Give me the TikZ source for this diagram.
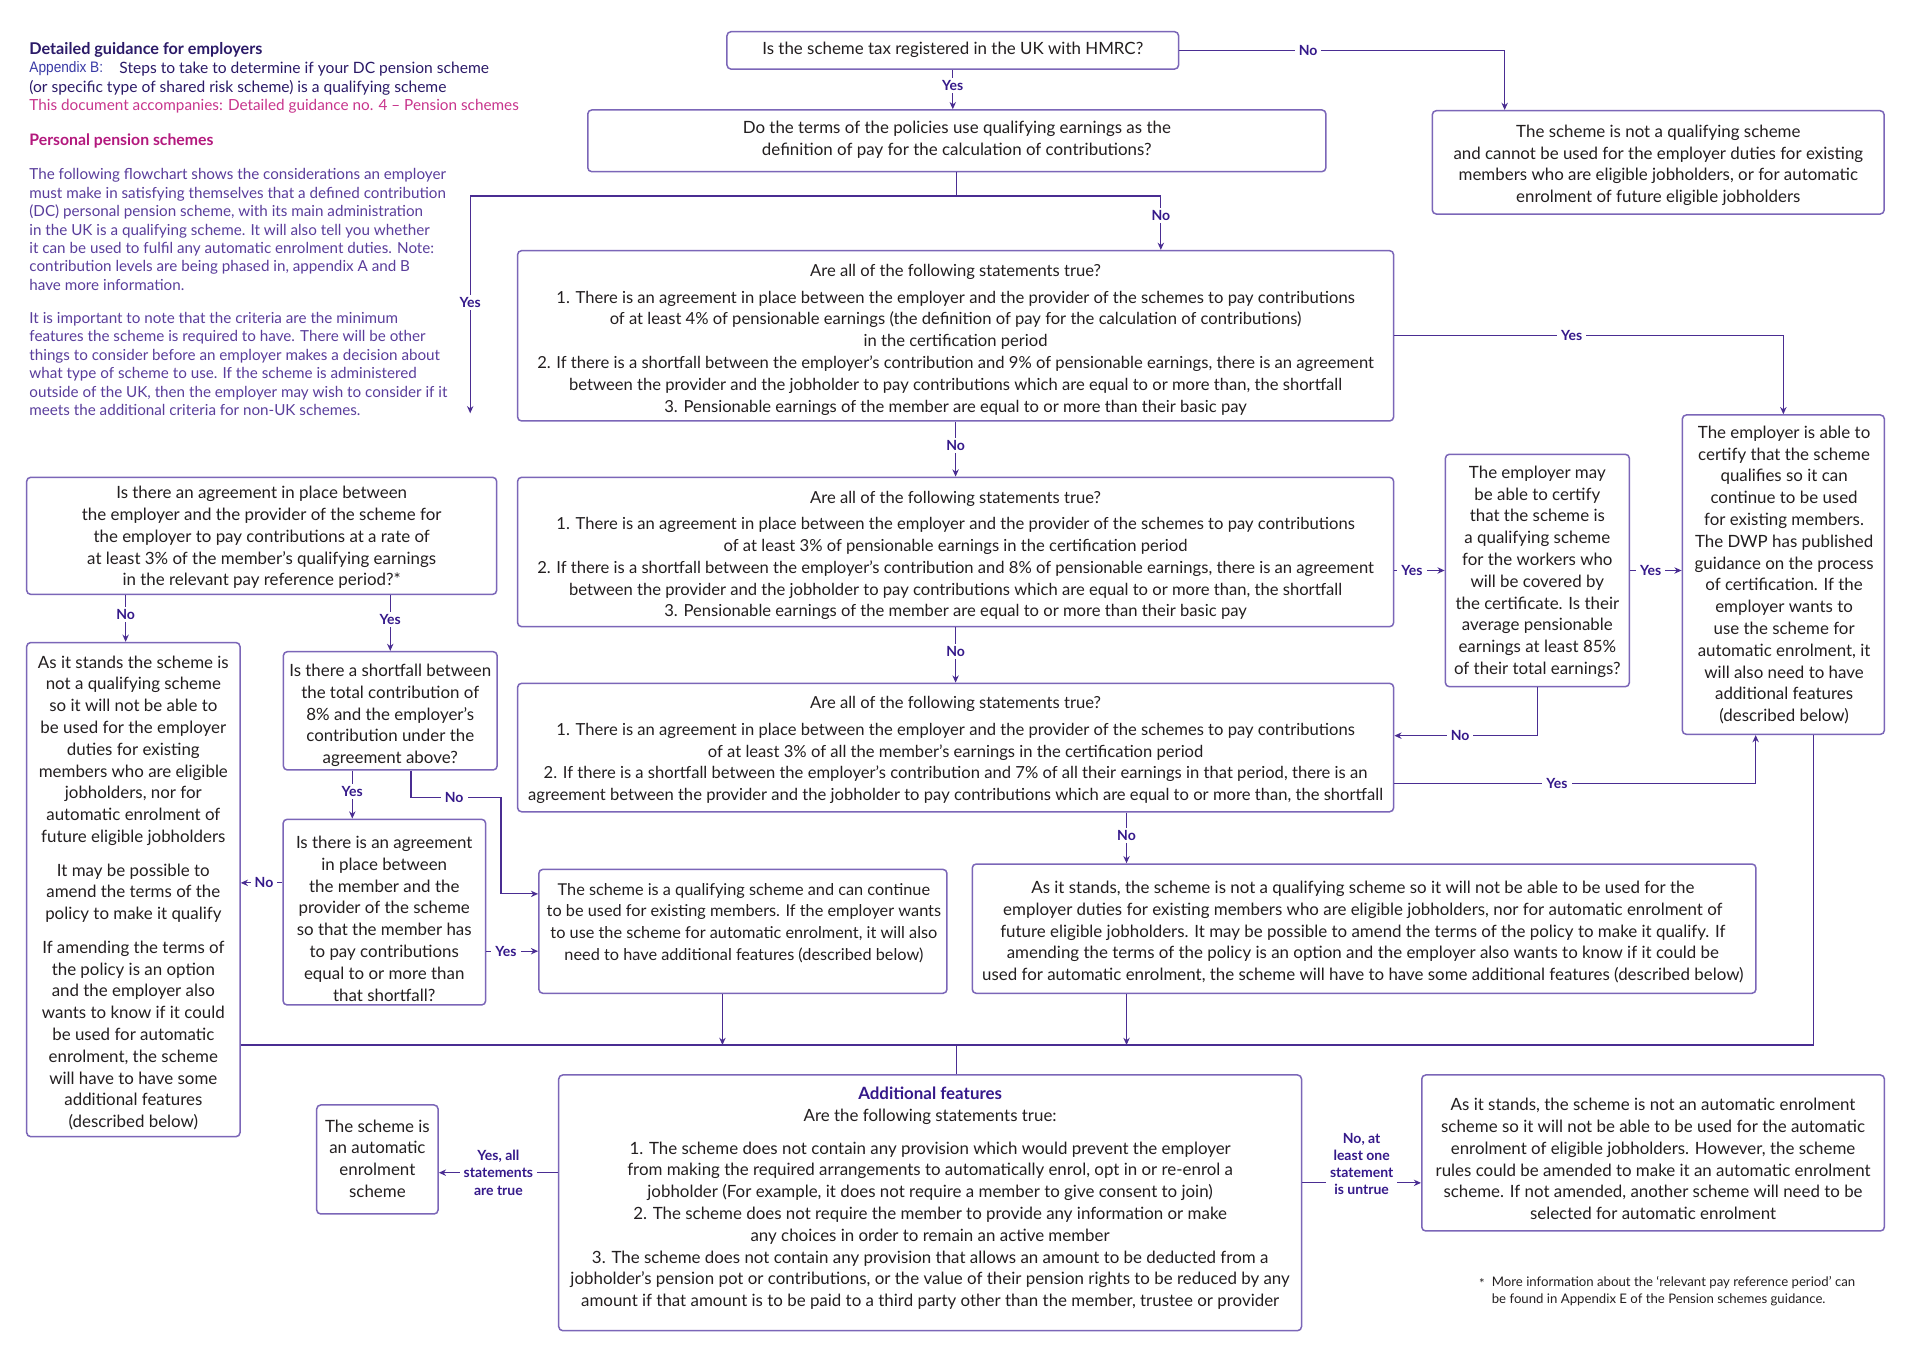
\documentclass[tikz,border=0pt]{standalone}
\usepackage{fontspec}
\setmainfont{Lato}
\newfontfamily\narrowfont[FakeStretch=0.9]{Liberation Sans}
\usetikzlibrary{arrows.meta}
\definecolor{boxline}{HTML}{7B66B8}
\definecolor{conn}{HTML}{4A2D92}
\definecolor{lblc}{HTML}{35198A}
\definecolor{txt}{HTML}{231F20}
\definecolor{navy}{HTML}{2B1A68}
\definecolor{apblue}{HTML}{3A3AA6}
\definecolor{mag}{HTML}{C8358D}
\definecolor{magb}{HTML}{B3187D}
\definecolor{para}{HTML}{5A3E9C}
\newcommand\unitpx{0.61224pt}
\newcommand\boxfont{\fontsize{8.45}{10.9}\selectfont}
\newcommand\widefont{\fontsize{8.3}{10.9}\selectfont}
\tikzset{
 frame/.style 2 args={draw=boxline, line width=0.75pt, rounded corners=2pt, minimum width=#1*\unitpx, minimum height=#2*\unitpx, inner sep=0pt},
 btxt/.style={align=center, font=\boxfont, text=txt, inner sep=0pt},
 wtxt/.style={btxt, font=\widefont},
 ln/.style={draw=conn, line width=0.6pt},
 arr/.style={ln, -{Stealth[length=3.6pt,width=3.2pt]}},
 lbl/.style={font=\bfseries\fontsize{7}{8.6}\selectfont, text=lblc, fill=white, inner xsep=2pt, inner ysep=1.2pt, align=center},
 hdr/.style={anchor=west, inner sep=0pt},
}
\begin{document}
\begin{tikzpicture}[x=\unitpx, y=-\unitpx]
\useasboundingbox[fill=white] (0,0) rectangle (1568,1109);

% ---------- header ----------
\node[hdr, font=\bfseries\fontsize{8.1}{9}\selectfont, text=navy] (t1) at (23.7,40.8) {Detailed guidance for employers};
\node[hdr, font=\narrowfont\fontsize{7.6}{9}\selectfont, text=apblue] (t2) at (23.7,56.4) {Appendix B:};
\node[hdr, font=\fontsize{7.8}{9}\selectfont, text=navy] (t2b) at (97.2,56.4) {Steps to take to determine if your DC pension scheme};
\node[hdr, font=\fontsize{7.8}{9}\selectfont, text=navy] (t3) at (23.7,71.9) {(or specific type of shared risk scheme) is a qualifying scheme};
\node[hdr, font=\fontsize{7.65}{9}\selectfont, text=mag] (t4) at (23.7,86.6) {This document accompanies: Detailed guidance no. 4 – Pension schemes};
\node[hdr, font=\bfseries\fontsize{7.9}{9}\selectfont, text=magb] (t5) at (23.7,115.1) {Personal pension schemes};
\node[hdr, align=left, font=\fontsize{7.6}{9.23}\selectfont, text=para] (p1) at (23.7,187.4) {The following flowchart shows the considerations an employer\\must make in satisfying themselves that a defined contribution\\(DC) personal pension scheme, with its main administration\\in the UK is a qualifying scheme. It will also tell you whether\\it can be used to fulfil any automatic enrolment duties. Note:\\contribution levels are being phased in, appendix A and B\\have more information.};
\node[hdr, align=left, font=\fontsize{7.6}{9.23}\selectfont, text=para] (p2) at (23.7,297.1) {It is important to note that the criteria are the minimum\\features the scheme is required to have. There will be other\\things to consider before an employer makes a decision about\\what type of scheme to use. If the scheme is administered\\outside of the UK, then the employer may wish to consider if it\\meets the additional criteria for non-UK schemes.};

% ---------- frames ----------
\node[frame={368.8}{30.5}] (A) at (778.1,41.15) {};
\node[frame={602.8}{50.4}] (B) at (781.4,115) {};
\node[frame={369}{84.4}] (D) at (1354.2,132.6) {};
\node[frame={715.4}{139.1}] (C) at (780.4,274.25) {};
\node[frame={715.4}{122}] (C2) at (780.4,450.8) {};
\node[frame={715.4}{104.9}] (C3) at (780.4,610.5) {};
\node[frame={165}{260.8}] (E) at (1456.4,469.3) {};
\node[frame={150.2}{189.8}] (F) at (1255.5,465.9) {};
\node[frame={640}{105.6}] (G) at (1114,758.4) {};
\node[frame={383.8}{95.6}] (H) at (213.7,437.6) {};
\node[frame={174.2}{403.5}] (I) at (108.9,726.5) {};
\node[frame={174.6}{96.6}] (J) at (318.7,580.5) {};
\node[frame={165.4}{151.6}] (K) at (313.9,744.9) {};
\node[frame={333.3}{101.2}] (L) at (606.7,760.6) {};
\node[frame={606.6}{208.8}] (M) at (759.6,982.3) {};
\node[frame={99.1}{89}] (N) at (308.2,946.9) {};
\node[frame={377.8}{127.4}] (O) at (1350,941.6) {};

% ---------- texts ----------
\node[btxt] (At) at (778.1,40.8) {Is the scheme tax registered in the UK with HMRC?};
\node[btxt] (Bt) at (781.4,114.3) {Do the terms of the policies use qualifying earnings as the\\definition of pay for the calculation of contributions?};
\node[btxt] (Dt) at (1354.3,135) {The scheme is not a qualifying scheme\\and cannot be used for the employer duties for existing\\members who are eligible jobholders, or for automatic\\enrolment of future eligible jobholders};
\node[wtxt] (Ct) at (780.4,277.5) {Are all of the following statements true?\\[2.4pt]1. There is an agreement in place between the employer and the provider of the schemes to pay contributions\\of at least 4\% of pensionable earnings (the definition of pay for the calculation of contributions)\\in the certification period\\2. If there is a shortfall between the employer’s contribution and 9\% of pensionable earnings, there is an agreement\\between the provider and the jobholder to pay contributions which are equal to or more than, the shortfall\\3. Pensionable earnings of the member are equal to or more than their basic pay};
\node[wtxt] (C2t) at (780.4,453.5) {Are all of the following statements true?\\[2.4pt]1. There is an agreement in place between the employer and the provider of the schemes to pay contributions\\of at least 3\% of pensionable earnings in the certification period\\2. If there is a shortfall between the employer’s contribution and 8\% of pensionable earnings, there is an agreement\\between the provider and the jobholder to pay contributions which are equal to or more than, the shortfall\\3. Pensionable earnings of the member are equal to or more than their basic pay};
\node[wtxt] (C3t) at (780.4,612.5) {Are all of the following statements true?\\[2.4pt]1. There is an agreement in place between the employer and the provider of the schemes to pay contributions\\of at least 3\% of all the member’s earnings in the certification period\\2. If there is a shortfall between the employer’s contribution and 7\% of all their earnings in that period, there is an\\agreement between the provider and the jobholder to pay contributions which are equal to or more than, the shortfall};
\node[btxt] (Et) at (1457,469.6) {The employer is able to\\certify that the scheme\\qualifies so it can\\continue to be used\\for existing members.\\The DWP has published\\guidance on the process\\of certification. If the\\employer wants to\\use the scheme for\\automatic enrolment, it\\will also need to have\\additional features\\(described below)};
\node[btxt] (Ft) at (1255.5,466.9) {The employer may\\be able to certify\\that the scheme is\\a qualifying scheme\\for the workers who\\will be covered by\\the certificate. Is their\\average pensionable\\earnings at least 85\%\\of their total earnings?};
\node[btxt] (Gt) at (1113,761.2) {As it stands, the scheme is not a qualifying scheme so it will not be able to be used for the\\employer duties for existing members who are eligible jobholders, nor for automatic enrolment of\\future eligible jobholders. It may be possible to amend the terms of the policy to make it qualify. If\\amending the terms of the policy is an option and the employer also wants to know if it could be\\used for automatic enrolment, the scheme will have to have some additional features (described below)};
\node[btxt] (Ht) at (213.7,438.9) {Is there an agreement in place between\\the employer and the provider of the scheme for\\the employer to pay contributions at a rate of\\at least 3\% of the member’s qualifying earnings\\in the relevant pay reference period?*};
\node[btxt] (It) at (108.9,729.2) {As it stands the scheme is\\not a qualifying scheme\\so it will not be able to\\be used for the employer\\duties for existing\\members who are eligible\\jobholders, nor for\\automatic enrolment of\\future eligible jobholders\\[5.9pt]It may be possible to\\amend the terms of the\\policy to make it qualify\\[5.9pt]If amending the terms of\\the policy is an option\\and the employer also\\wants to know if it could\\be used for automatic\\enrolment, the scheme\\will have to have some\\additional features\\(described below)};
\node[btxt] (Jt) at (318.7,584.2) {Is there a shortfall between\\the total contribution of\\8\% and the employer’s\\contribution under the\\agreement above?};
\node[btxt] (Kt) at (313.8,750.2) {Is there is an agreement\\in place between\\the member and the\\provider of the scheme\\so that the member has\\to pay contributions\\equal to or more than\\that shortfall?};
\node[btxt, font=\fontsize{8.15}{10.9}\selectfont] (Lt) at (607.5,753.8) {The scheme is a qualifying scheme and can continue\\to be used for existing members. If the employer wants\\to use the scheme for automatic enrolment, it will also\\need to have additional features (described below)};
\node[btxt] (Mt) at (759.6,978.7) {{\bfseries\color{lblc}Additional features}\\Are the following statements true:\\[5.3pt]1. The scheme does not contain any provision which would prevent the employer\\from making the required arrangements to automatically enrol, opt in or re-enrol a\\jobholder (For example, it does not require a member to give consent to join)\\2. The scheme does not require the member to provide any information or make\\any choices in order to remain an active member\\3. The scheme does not contain any provision that allows an amount to be deducted from a\\jobholder’s pension pot or contributions, or the value of their pension rights to be reduced by any\\amount if that amount is to be paid to a third party other than the member, trustee or provider};
\node[btxt] (Nt) at (308.2,946.2) {The scheme is\\an automatic\\enrolment\\scheme};
\node[btxt] (Ot) at (1350,946.5) {As it stands, the scheme is not an automatic enrolment\\scheme so it will not be able to be used for the automatic\\enrolment of eligible jobholders. However, the scheme\\rules could be amended to make it an automatic enrolment\\scheme. If not amended, another scheme will need to be\\selected for automatic enrolment};

% footnote
\node[hdr, font=\fontsize{6.6}{8.4}\selectfont, text=txt] (fs) at (1207.6,1048) {*};
\node[anchor=north west, inner sep=0pt, align=left, font=\fontsize{6.6}{8.4}\selectfont, text=txt] (fn) at (1218,1042) {More information about the ‘relevant pay reference period’ can\\be found in Appendix E of the Pension schemes guidance.};

% ---------- coordinates ----------
\coordinate (jAD) at (1228.8,0);
\coordinate (jBL) at (384,160);
\coordinate (jBR) at (948,160);
\coordinate (yesEnd) at (384,337.5);
\coordinate (jF) at (0,600.8);
\coordinate (cYes3) at (1433.8,639.7);
\coordinate (gx) at (920,853.4);
\coordinate (hNo) at (102.6,0);
\coordinate (jYes) at (287.7,0);
\coordinate (jn1) at (335.6,651.2);
\coordinate (jn2) at (409.2,730);
\coordinate (kNo) at (0,721);
\coordinate (kYes) at (0,776.8);
\coordinate (bus) at (590,853.4);
\coordinate (busR) at (1480.7,853.4);
\coordinate (busM) at (781,853.4);
\coordinate (mn) at (0,957.7);
\coordinate (mo) at (0,966);

% ---------- connectors ----------
\draw[arr] (A.east) -| node[lbl,pos=0.198]{No} (D.north -| jAD);
\draw[arr] (A.south) -- node[lbl,pos=0.4]{Yes} (A.south |- B.north);
\draw[ln] (B.south) -- (B.south |- jBL);
\draw[arr] (jBR) -- (jBL) -- node[lbl,pos=0.49]{Yes} (yesEnd);
\draw[arr] (jBR) -- node[lbl,pos=0.36]{No} (C.north -| jBR);
\draw[arr] (C.east) -| node[lbl,pos=0.228]{Yes} (E.north);
\draw[arr] (C.south) -- node[lbl,pos=0.44]{No} (C2.north);
\draw[arr] (C2.east |- F.west) -- node[lbl,pos=0.35]{Yes} (F.west);
\draw[arr] (F.east) -- node[lbl,pos=0.4]{Yes} (E.west |- F.east);
\draw[arr] (C2.south) -- node[lbl,pos=0.44]{No} (C3.north);
\draw[arr] (F.south) |- node[lbl,pos=0.77]{No} (C3.east |- jF);
\draw[arr] (C3.east |- cYes3) -| node[lbl,pos=0.225]{Yes} (E.south -| cYes3);
\draw[arr] (C3.south -| gx) -- node[lbl,pos=0.45]{No} (G.north -| gx);
\draw[arr] (H.south -| hNo) -- node[lbl,pos=0.41]{No} (I.north -| hNo);
\draw[arr] (H.south -| J.north) -- node[lbl,pos=0.44]{Yes} (J.north);
\draw[arr] (J.south -| jYes) -- node[lbl,pos=0.44]{Yes} (K.north -| jYes);
\draw[arr] (J.south -| jn1) |- node[lbl,pos=0.74]{No} (jn2 |- jn1) -- (jn2) -- (L.west |- jn2);
\draw[arr] (K.west |- kNo) -- node[lbl,pos=0.44]{No} (I.east |- kNo);
\draw[arr] (K.east |- kYes) -- node[lbl,pos=0.38]{Yes} (L.west |- kYes);
\draw[arr] (L.south -| bus) -- (bus);
\draw[arr] (G.south -| gx) -- (gx);
\draw[ln] (I.east |- bus) -- (busR) -- (E.south -| busR);
\draw[ln] (busM) -- (M.north -| busM);
\draw[arr] (M.west |- mn) -- node[lbl]{Yes, all\\statements\\are true} (N.east |- mn);
\draw[arr] (M.east |- mo) -- node[lbl,yshift=9.49pt]{No, at\\least one\\statement\\is untrue} (O.west |- mo);
\end{tikzpicture}
\end{document}
